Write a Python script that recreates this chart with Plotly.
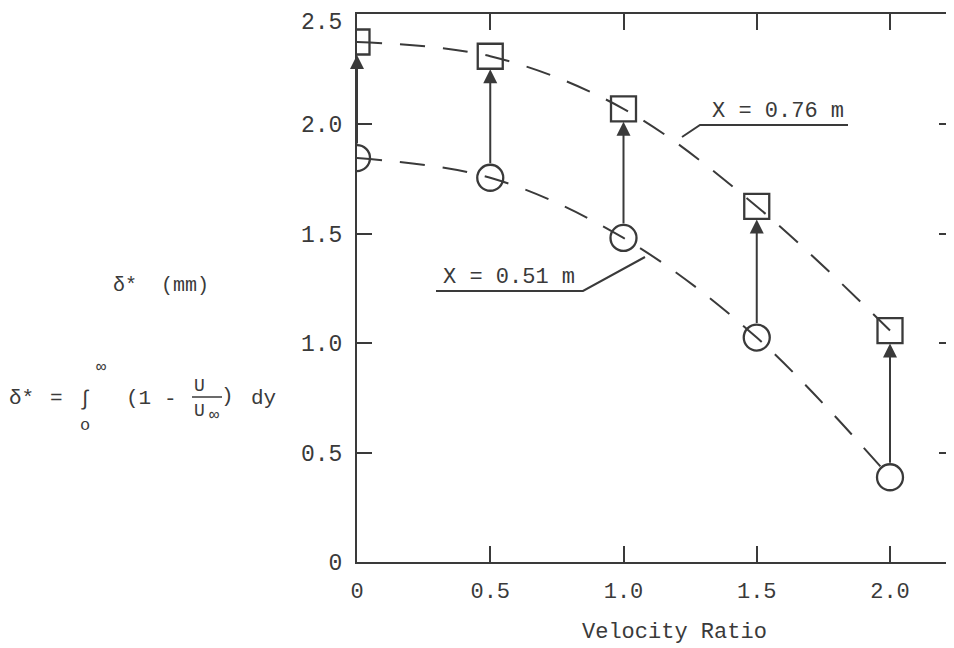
import plotly.graph_objects as go

# ---- data ----
velocity_ratio = [0.0, 0.5, 1.0, 1.5, 2.0]
delta_x051 = [1.845, 1.755, 1.48, 1.025, 0.387]   # circles, X = 0.51 m
delta_x076 = [2.375, 2.31, 2.07, 1.624, 1.057]    # squares, X = 0.76 m
x_ticks = [0, 0.5, 1.0, 1.5, 2.0]
x_ticklabels = ["0", "0.5", "1.0", "1.5", "2.0"]
y_ticks = [0, 0.5, 1.0, 1.5, 2.0, 2.5]
y_ticklabels = ["0", "0.5", "1.0", "1.5", "2.0", "2.5"]
label_051 = "X = 0.51 m"
label_076 = "X = 0.76 m"

INK = "#3a3a3a"
FONT = "Liberation Mono"

OFF = 8                      # page body margin
W, H = 954 - OFF, 648 - OFF
ML = 357 - OFF               # plot left edge (window x = 357)
MT = 14 - OFF                # plot top edge (window y = 14)
MB = H - (562 - OFF)         # plot bottom edge (window y = 562)
MR = 0
PW, PH = W - ML - MR, H - MT - MB


def px(X):  # window pixel x -> paper x
    return (X - OFF - ML) / PW


def py(Y):  # window pixel y -> paper y
    return (H - MB - (Y - OFF)) / PH


fig = go.Figure()

curve_line = dict(color=INK, width=2, dash="25px,18px", shape="spline", smoothing=1.0)

fig.add_trace(go.Scatter(x=velocity_ratio, y=delta_x051, mode="lines",
                         line=curve_line, showlegend=False, hoverinfo="skip"))
fig.add_trace(go.Scatter(x=velocity_ratio, y=delta_x076, mode="lines",
                         line=curve_line, showlegend=False, hoverinfo="skip"))
fig.add_trace(go.Scatter(x=velocity_ratio, y=delta_x051, mode="markers",
                         marker=dict(symbol="circle-open", size=26, color=INK,
                                     line=dict(color=INK, width=2.3)),
                         showlegend=False))
fig.add_trace(go.Scatter(x=velocity_ratio, y=delta_x076, mode="markers",
                         marker=dict(symbol="square-open", size=25, color=INK,
                                     line=dict(color=INK, width=2.3)),
                         showlegend=False))
# invisible trace to carry the right-hand tick axis
fig.add_trace(go.Scatter(x=[velocity_ratio[0]], y=[delta_x051[0]], yaxis="y2",
                         mode="markers", marker=dict(opacity=0),
                         showlegend=False, hoverinfo="skip"))

annotations = []
# vertical arrows from circle to square
for xv, y1, y2 in zip(velocity_ratio, delta_x051, delta_x076):
    annotations.append(dict(x=xv, y=y2, ax=xv, ay=y1, xref="x", yref="y",
                            axref="x", ayref="y", showarrow=True, text="",
                            arrowhead=2, arrowsize=1.4, arrowwidth=2,
                            arrowcolor=INK, standoff=13, startstandoff=13))


def txt(X, Y, s, size=21, xanchor="center"):
    return dict(x=px(X), y=py(Y), xref="paper", yref="paper", text=s,
                showarrow=False, xanchor=xanchor, yanchor="middle",
                font=dict(family=FONT, size=size, color=INK))


# top y tick label, nudged down a little so it stays inside the page
annotations.append(dict(x=0, y=y_ticks[-1], xref="paper", yref="y",
                        text=y_ticklabels[-1], showarrow=False,
                        xanchor="right", yanchor="middle", xshift=-13, yshift=-8,
                        font=dict(family=FONT, size=23, color=INK)))

annotations += [
    txt(778, 112, label_076, size=22),
    txt(509, 277, label_051, size=22),
    txt(674, 632, "Velocity Ratio", size=22),
    txt(161, 285, "δ*  (mm)", size=20),
    txt(21, 398, "δ*", size=21),
    txt(56, 398, "=", size=21),
    txt(85, 399, "∫", size=21),
    txt(101, 367, "∞", size=17),
    txt(85, 425, "o", size=17),
    txt(138, 398, "(1", size=21),
    txt(170, 399, "-", size=21),
    txt(199, 386, "U", size=18),
    txt(199, 411, "U", size=18),
    txt(214, 415, "∞", size=17),
    txt(227, 396, ")", size=21),
    txt(263, 398, "dy", size=21),
]

shapes = [
    # fraction bar
    dict(type="line", xref="paper", yref="paper", x0=px(192), x1=px(222),
         y0=py(397), y1=py(397), line=dict(color=INK, width=1.5)),
    # X = 0.76 m underline + leader
    dict(type="path", xref="paper", yref="paper",
         path=f"M {px(848)} {py(125)} L {px(700)} {py(125)} L {px(682)} {py(137)}",
         line=dict(color=INK, width=2)),
    # X = 0.51 m underline + leader
    dict(type="path", xref="paper", yref="paper",
         path=f"M {px(436)} {py(291)} L {px(583)} {py(291)} L {px(645)} {py(257)}",
         line=dict(color=INK, width=2)),
]

XMAX = PW / 266.5
YMAX = 2.503

fig.update_layout(
    width=W, height=H,
    margin=dict(l=ML, r=MR, t=MT, b=MB, autoexpand=False),
    paper_bgcolor="white", plot_bgcolor="white",
    font=dict(family=FONT, color=INK),
    showlegend=False,
    annotations=annotations,
    shapes=shapes,
    xaxis=dict(range=[0, XMAX], tickvals=x_ticks, ticktext=x_ticklabels,
               ticks="inside", ticklen=16, tickwidth=2, tickcolor=INK,
               showline=True, linecolor=INK, linewidth=2, mirror="ticks",
               showgrid=False, zeroline=False,
               tickfont=dict(family=FONT, size=22, color=INK),
               ticklabelstandoff=8, ticklabeloverflow="allow"),
    yaxis=dict(range=[0, YMAX], tickvals=y_ticks[:-1], ticktext=y_ticklabels[:-1],
               ticks="inside", ticklen=15, tickwidth=2, tickcolor=INK,
               showline=True, linecolor=INK, linewidth=2, mirror=False,
               showgrid=False, zeroline=False,
               tickfont=dict(family=FONT, size=23, color=INK),
               ticklabelstandoff=8, ticklabeloverflow="allow"),
    yaxis2=dict(range=[0, YMAX], tickvals=y_ticks[1:-1], overlaying="y",
                side="right", ticks="inside", ticklen=15, tickwidth=2,
                tickcolor=INK, showticklabels=False, showline=False,
                showgrid=False, zeroline=False),
)

fig.write_html("out.html")
